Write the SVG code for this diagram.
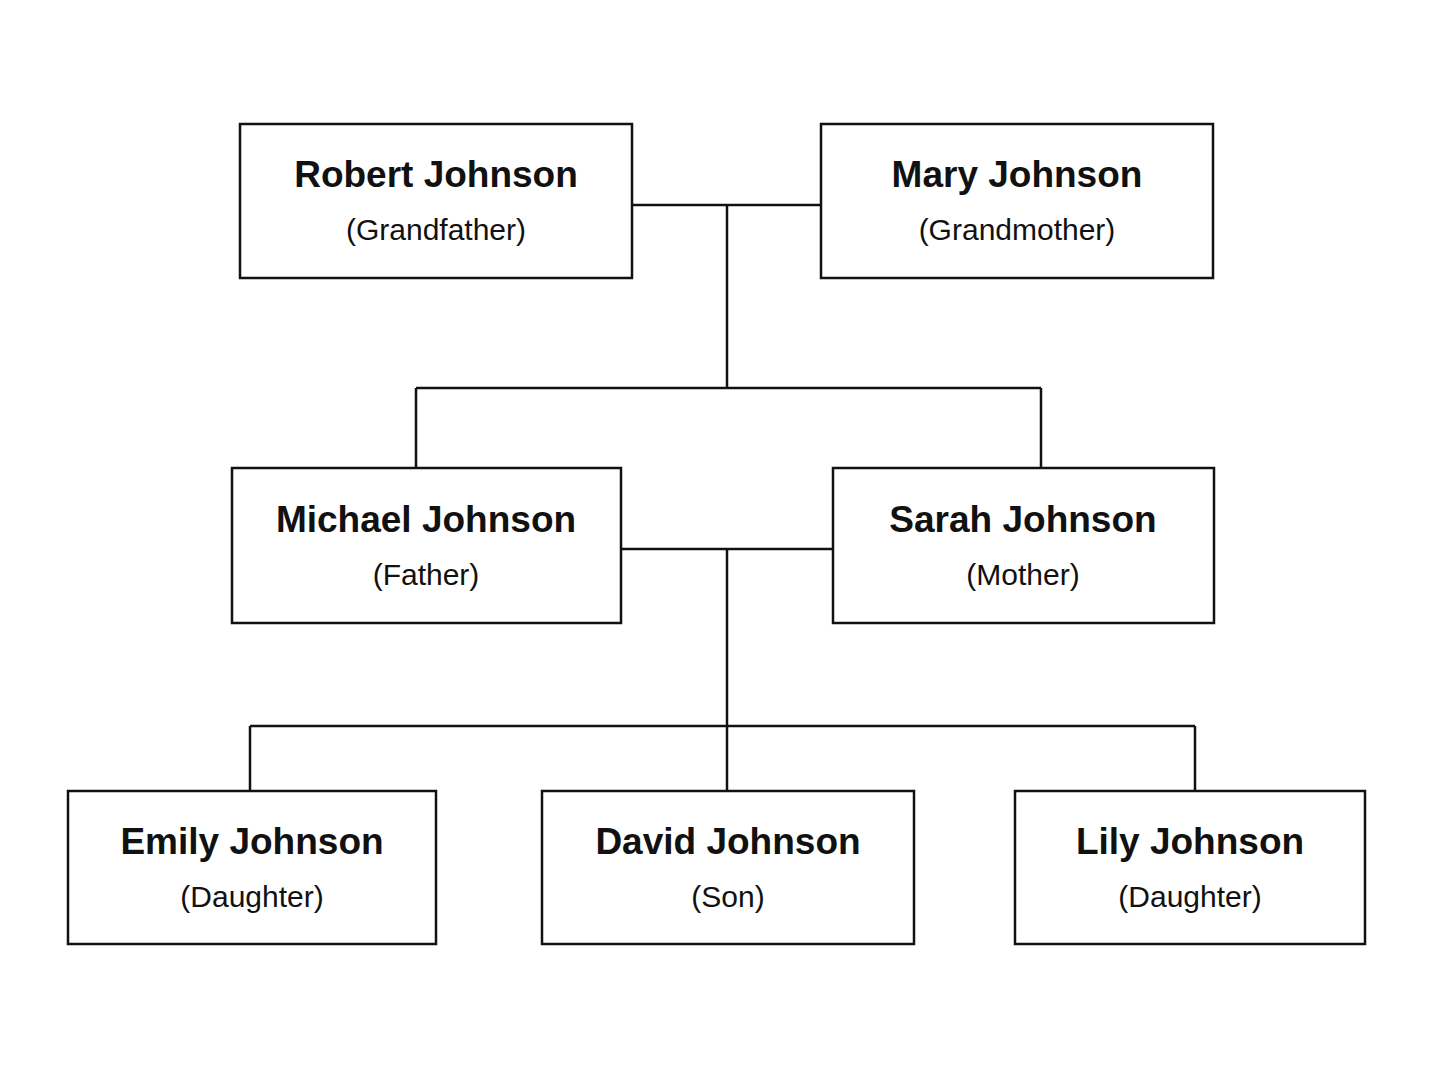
<svg xmlns="http://www.w3.org/2000/svg" width="1448" height="1086" viewBox="0 0 1448 1086">
<style>
.box{fill:#fff;stroke:#111;stroke-width:2.5}
.ln{stroke:#111;stroke-width:2.5;fill:none}
.n{font-family:"Liberation Sans",Arial,sans-serif;font-weight:bold;font-size:37px;fill:#111;text-anchor:middle}
.r{font-family:"Liberation Sans",Arial,sans-serif;font-size:30px;fill:#111;text-anchor:middle}
</style>
<rect width="1448" height="1086" fill="#fff"/>
<g id="connectors">
<path class="ln" d="M632 205H821M727 205V388M416 388H1041M416 388V468M1041 388V468"/>
<path class="ln" d="M621 549H833M727 549V791M250 726H1195M250 726V791M1195 726V791"/>
</g>
<g id="robert"><rect class="box" x="240" y="124" width="392" height="154"/><text class="n" x="436" y="187">Robert Johnson</text><text class="r" x="436" y="240">(Grandfather)</text></g>
<g id="mary"><rect class="box" x="821" y="124" width="392" height="154"/><text class="n" x="1017" y="187">Mary Johnson</text><text class="r" x="1017" y="240">(Grandmother)</text></g>
<g id="michael"><rect class="box" x="232" y="468" width="389" height="155"/><text class="n" x="426" y="532">Michael Johnson</text><text class="r" x="426" y="585">(Father)</text></g>
<g id="sarah"><rect class="box" x="833" y="468" width="381" height="155"/><text class="n" x="1023" y="532">Sarah Johnson</text><text class="r" x="1023" y="585">(Mother)</text></g>
<g id="emily"><rect class="box" x="68" y="791" width="368" height="153"/><text class="n" x="252" y="854">Emily Johnson</text><text class="r" x="252" y="907">(Daughter)</text></g>
<g id="david"><rect class="box" x="542" y="791" width="372" height="153"/><text class="n" x="728" y="854">David Johnson</text><text class="r" x="728" y="907">(Son)</text></g>
<g id="lily"><rect class="box" x="1015" y="791" width="350" height="153"/><text class="n" x="1190" y="854">Lily Johnson</text><text class="r" x="1190" y="907">(Daughter)</text></g>
</svg>
